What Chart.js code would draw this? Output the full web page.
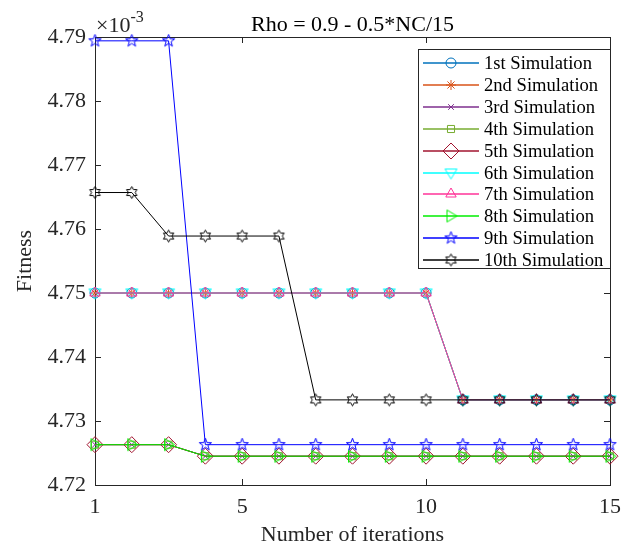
<!DOCTYPE html>
<html>
<head>
<meta charset="utf-8">
<script src="https://cdn.jsdelivr.net/npm/chart.js@4.4.0/dist/chart.umd.min.js"></script>
<style>
html, body { margin: 0; padding: 0; background: #fff; }
#wrap { width: 630px; height: 545px; }
</style>
</head>
<body>
<div id="wrap"><canvas id="fitnessChart" width="630" height="545"></canvas></div>
<script>
// iterations on the x axis
const iterations = [1, 2, 3, 4, 5, 6, 7, 8, 9, 10, 11, 12, 13, 14, 15];
const xTickValues = [1, 5, 10, 15];

// fitness values (x 10^-3)
const sim1 = [4.75, 4.75, 4.75, 4.75, 4.75, 4.75, 4.75, 4.75, 4.75, 4.75, 4.7333, 4.7333, 4.7333, 4.7333, 4.7333];
const sim2 = [4.75, 4.75, 4.75, 4.75, 4.75, 4.75, 4.75, 4.75, 4.75, 4.75, 4.7333, 4.7333, 4.7333, 4.7333, 4.7333];
const sim3 = [4.7263, 4.7263, 4.7263, 4.7245, 4.7245, 4.7245, 4.7245, 4.7245, 4.7245, 4.7245, 4.7245, 4.7245, 4.7245, 4.7245, 4.7245];
const sim4 = [4.7263, 4.7263, 4.7263, 4.7245, 4.7245, 4.7245, 4.7245, 4.7245, 4.7245, 4.7245, 4.7245, 4.7245, 4.7245, 4.7245, 4.7245];
const sim5 = [4.7263, 4.7263, 4.7263, 4.7245, 4.7245, 4.7245, 4.7245, 4.7245, 4.7245, 4.7245, 4.7245, 4.7245, 4.7245, 4.7245, 4.7245];
const sim6 = [4.75, 4.75, 4.75, 4.75, 4.75, 4.75, 4.75, 4.75, 4.75, 4.75, 4.7333, 4.7333, 4.7333, 4.7333, 4.7333];
const sim7 = [4.75, 4.75, 4.75, 4.75, 4.75, 4.75, 4.75, 4.75, 4.75, 4.75, 4.7333, 4.7333, 4.7333, 4.7333, 4.7333];
const sim8 = [4.7263, 4.7263, 4.7263, 4.7245, 4.7245, 4.7245, 4.7245, 4.7245, 4.7245, 4.7245, 4.7245, 4.7245, 4.7245, 4.7245, 4.7245];
const sim9 = [4.7894, 4.7894, 4.7894, 4.7263, 4.7263, 4.7263, 4.7263, 4.7263, 4.7263, 4.7263, 4.7263, 4.7263, 4.7263, 4.7263, 4.7263];
const sim10 = [4.7657, 4.7657, 4.7589, 4.7589, 4.7589, 4.7589, 4.7333, 4.7333, 4.7333, 4.7333, 4.7333, 4.7333, 4.7333, 4.7333, 4.7333];

const seriesNames = ['1st Simulation', '2nd Simulation', '3rd Simulation', '4th Simulation', '5th Simulation',
    '6th Simulation', '7th Simulation', '8th Simulation', '9th Simulation', '10th Simulation'];
const seriesValues = [sim1, sim2, sim3, sim4, sim5, sim6, sim7, sim8, sim9, sim10];
const seriesColors = ['#0072BD', '#D95319', '#7E2F8E', '#77AC30', '#A2142F',
    '#00FFFF', '#FF3399', '#00EE00', '#0000FF', '#000000'];

const AXIS = '#262626';
const SERIF = '"Liberation Serif", "Times New Roman", serif';

// small canvases for the marker shapes chart.js doesn't have
function makeMarker(color, size, pts) {
    const c = document.createElement('canvas');
    c.width = size;
    c.height = size;
    const ctx = c.getContext('2d');
    const m = size / 2;
    ctx.strokeStyle = color;
    ctx.lineWidth = 1;
    ctx.beginPath();
    pts.forEach((p, i) => {
        if (i === 0) ctx.moveTo(m + p[0], m + p[1]);
        else ctx.lineTo(m + p[0], m + p[1]);
    });
    ctx.closePath();
    ctx.stroke();
    return c;
}

function starPoints(n, outer, inner, startAngle) {
    const pts = [];
    for (let i = 0; i < n * 2; i++) {
        const r = i % 2 === 0 ? outer : inner;
        const a = startAngle + i * Math.PI / n;
        pts.push([r * Math.cos(a), r * Math.sin(a)]);
    }
    return pts;
}

const downTriangle = makeMarker(seriesColors[5], 15, [[-6, -4], [6, -4], [0, 6]]);
const rightTriangle = makeMarker(seriesColors[7], 15, [[-4, -6], [6, 0], [-4, 6]]);
const pentagram = makeMarker(seriesColors[8], 15, starPoints(5, 6.5, 2.6, -Math.PI / 2));
const hexagram = makeMarker(seriesColors[9], 15, starPoints(6, 6, 3.4, -Math.PI / 2));

const pointStyles = ['circle', 'star', 'crossRot', 'rect', 'rectRot', downTriangle, 'triangle', rightTriangle, pentagram, hexagram];
const pointRadii = [5, 5, 4, 5, 8, 6, 6, 6, 6, 6];

const datasets = seriesValues.map((vals, i) => ({
    label: seriesNames[i],
    data: vals.map((v, j) => ({ x: iterations[j], y: v })),
    borderColor: seriesColors[i],
    borderWidth: 1,
    tension: 0,
    pointStyle: pointStyles[i],
    pointRadius: pointRadii[i],
    pointBorderColor: seriesColors[i],
    pointBackgroundColor: 'rgba(0,0,0,0)',
    pointBorderWidth: 1,
    clip: false,
    order: 10 - i
}));

// box around the axes with inward ticks on all sides
const axesBox = {
    id: 'axesBox',
    beforeDatasetsDraw(chart) {
        const { ctx, chartArea: a } = chart;
        const xs = chart.scales.x, ys = chart.scales.y;
        ctx.save();
        ctx.strokeStyle = AXIS;
        ctx.lineWidth = 1;
        ctx.strokeRect(a.left + 0.5, a.top + 0.5, a.right - a.left, a.bottom - a.top);
        ctx.beginPath();
        xs.ticks.forEach(t => {
            const px = Math.round(xs.getPixelForValue(t.value)) + 0.5;
            ctx.moveTo(px, a.bottom); ctx.lineTo(px, a.bottom - 6);
            ctx.moveTo(px, a.top); ctx.lineTo(px, a.top + 6);
        });
        ys.ticks.forEach(t => {
            const py = Math.round(ys.getPixelForValue(t.value)) + 0.5;
            ctx.moveTo(a.left, py); ctx.lineTo(a.left + 6, py);
            ctx.moveTo(a.right, py); ctx.lineTo(a.right - 6, py);
        });
        ctx.stroke();
        ctx.restore();
    },
    afterDatasetsDraw(chart) {
        const { ctx, chartArea: a } = chart;
        ctx.save();
        // title
        ctx.fillStyle = '#000';
        ctx.font = '22px ' + SERIF;
        ctx.textAlign = 'center';
        ctx.textBaseline = 'alphabetic';
        ctx.fillText('Rho = 0.9 - 0.5*NC/15', (a.left + a.right) / 2, 31);
        // exponent label
        ctx.fillStyle = AXIS;
        ctx.textAlign = 'left';
        ctx.font = '22px ' + SERIF;
        ctx.fillText('\u00d710', a.left + 1, 32);
        const w = ctx.measureText('\u00d710').width;
        ctx.font = '16px ' + SERIF;
        ctx.fillText('-3', a.left + 1 + w, 22);

        // legend
        const bx = 418, by = 49, bw = 192, bh = 219;
        ctx.fillStyle = '#fff';
        ctx.fillRect(bx, by, bw, bh);
        ctx.strokeStyle = AXIS;
        ctx.lineWidth = 1;
        ctx.strokeRect(bx + 0.5, by + 0.5, bw, bh);
        const drawPoint = Chart.helpers && Chart.helpers.drawPoint;
        ctx.font = '18.6px ' + SERIF;
        ctx.textBaseline = 'middle';
        seriesNames.forEach((name, i) => {
            const y = Math.round(by + 14 + i * 21.9);
            ctx.beginPath();
            ctx.strokeStyle = seriesColors[i];
            ctx.lineWidth = 1.5;
            ctx.moveTo(423, y);
            ctx.lineTo(479, y);
            ctx.stroke();
            ctx.lineWidth = 1;
            ctx.fillStyle = 'rgba(0,0,0,0)';
            if (drawPoint) {
                drawPoint(ctx, { pointStyle: pointStyles[i], radius: pointRadii[i], rotation: 0, borderWidth: 1 }, 451, y);
            }
            ctx.fillStyle = '#000';
            ctx.fillText(name, 484, y + 1);
        });
        ctx.restore();
    }
};

new Chart(document.getElementById('fitnessChart'), {
    type: 'line',
    data: { datasets: datasets },
    options: {
        responsive: false,
        animation: false,
        devicePixelRatio: 1,
        layout: { padding: { top: 37, right: 9, left: 0, bottom: 0 } },
        plugins: {
            legend: { display: false },
            title: { display: false },
            tooltip: { enabled: false }
        },
        scales: {
            x: {
                type: 'linear',
                min: 1,
                max: 15,
                afterBuildTicks: (scale) => { scale.ticks = xTickValues.map(v => ({ value: v })); },
                afterFit: (scale) => { scale.height = 60; },
                grid: { display: false, drawTicks: false },
                border: { display: false },
                ticks: { color: AXIS, font: { family: SERIF, size: 22 }, padding: 9, maxRotation: 0, autoSkip: false },
                title: { display: true, text: 'Number of iterations', color: AXIS,
                    font: { family: SERIF, size: 22, lineHeight: 0.9 }, padding: { top: 0, bottom: 0 } }
            },
            y: {
                min: 4.72,
                max: 4.79,
                afterFit: (scale) => { scale.width = 95; },
                grid: { display: false, drawTicks: false },
                border: { display: false },
                ticks: { stepSize: 0.01, color: AXIS, font: { family: SERIF, size: 22 }, padding: 9,
                    callback: (v) => v.toFixed(2) },
                title: { display: true, text: 'Fitness', color: AXIS, font: { family: SERIF, size: 22 }, padding: { top: 12, bottom: 0 } }
            }
        }
    },
    plugins: [axesBox]
});
</script>
</body>
</html>
